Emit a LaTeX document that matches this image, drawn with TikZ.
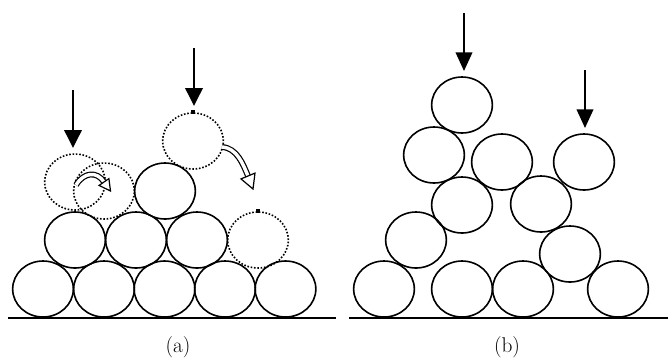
\documentclass[tikz,border=0pt]{standalone}
\usetikzlibrary{shapes.geometric,arrows.meta}
\begin{document}
\begin{tikzpicture}[x=0.75pt,y=-0.75pt,
  ball/.style={draw,ellipse,inner sep=0pt,minimum width=45.5pt,minimum height=42pt,line width=1.2pt},
  ghost/.style={ball,line width=1.2pt,dash pattern=on 1.2pt off 1.3pt},
  fallA/.style={line width=1.9pt,-{Triangle[length=13.5pt,width=13pt]}},
  fallB/.style={line width=1.3pt,-{Triangle[length=14pt,width=12.5pt]}},
  ground/.style={line width=1.5pt},
  hollow/.style={draw=black,double=white,line width=0.9pt,double distance=2.6pt},
  headw/.style={draw=black,fill=white,line width=0.9pt,line join=miter},
  topdot/.style={fill=black,minimum size=2.8pt,inner sep=0pt,draw=none,rectangle},
  lab/.style={font=\fontsize{16}{18}\selectfont}]
\useasboundingbox (0,0) rectangle (668,362);
% ---------- panel (a)
\coordinate (ga1) at (8,318); \coordinate (ga2) at (336,318);
\draw[ground] (ga1) -- (ga2);
\foreach \n/\x in {1/43,2/104,3/164.5,4/225,5/285.5}
  \node[ball] (a1\n) at (\x,289) {};
\foreach \n/\x in {1/75,2/136,3/197}
  \node[ball] (a2\n) at (\x,240) {};
\node[ghost] (a24) at (258,240) {};
\node[ball] (a31) at (165,191) {};
\node[ghost] (gl1) at (75,182) {};
\node[ghost] (gl2) at (104,191) {};
\node[ghost] (gt) at (193,141) {};
\node[topdot] (m1) at (gt.north) {};
\node[topdot] (m2) at (a24.north) {};
\coordinate (fa1) at (73,90); \coordinate (fa1e) at (73,148);
\draw[fallA] (fa1) -- (fa1e);
\coordinate (fa2) at (194,48); \coordinate (fa2e) at (194,106);
\draw[fallA] (fa2) -- (fa2e);
% hollow curved arrows
\coordinate (h1s) at (76,185); \coordinate (h1e) at (104,182);
\draw[hollow] (h1s) .. controls (84,172) and (97,171) .. (h1e);
\draw[headw] (108.9,178.6) -- (110.5,191) -- (99.1,185.4) -- cycle;
\coordinate (h2s) at (222,147); \coordinate (h2e) at (248,176);
\draw[hollow] (h2s) .. controls (237,148) and (243,164) .. (h2e);
\draw[headw] (255,173.1) -- (253,189) -- (241,178.9) -- cycle;
\node[lab] (la) at (178,347) {(a)};
% ---------- panel (b)
\coordinate (gb1) at (349,318); \coordinate (gb2) at (668,318);
\draw[ground] (gb1) -- (gb2);
\foreach \n/\x in {1/384,2/462,3/523,4/618}
  \node[ball] (b1\n) at (\x,289) {};
\node[ball] (b21) at (416,240) {};
\node[ball] (b22) at (570,254) {};
\node[ball] (b31) at (462,205) {};
\node[ball] (b32) at (541,204) {};
\node[ball] (b41) at (434,155) {};
\node[ball] (b42) at (502,162) {};
\node[ball] (b43) at (584,162) {};
\node[ball] (b51) at (462,105) {};
\coordinate (fb1) at (464,13); \coordinate (fb1e) at (464,71);
\draw[fallB] (fb1) -- (fb1e);
\coordinate (fb2) at (585,70); \coordinate (fb2e) at (585,128);
\draw[fallB] (fb2) -- (fb2e);
\node[lab] (lb) at (507,347) {(b)};
\end{tikzpicture}
\end{document}
